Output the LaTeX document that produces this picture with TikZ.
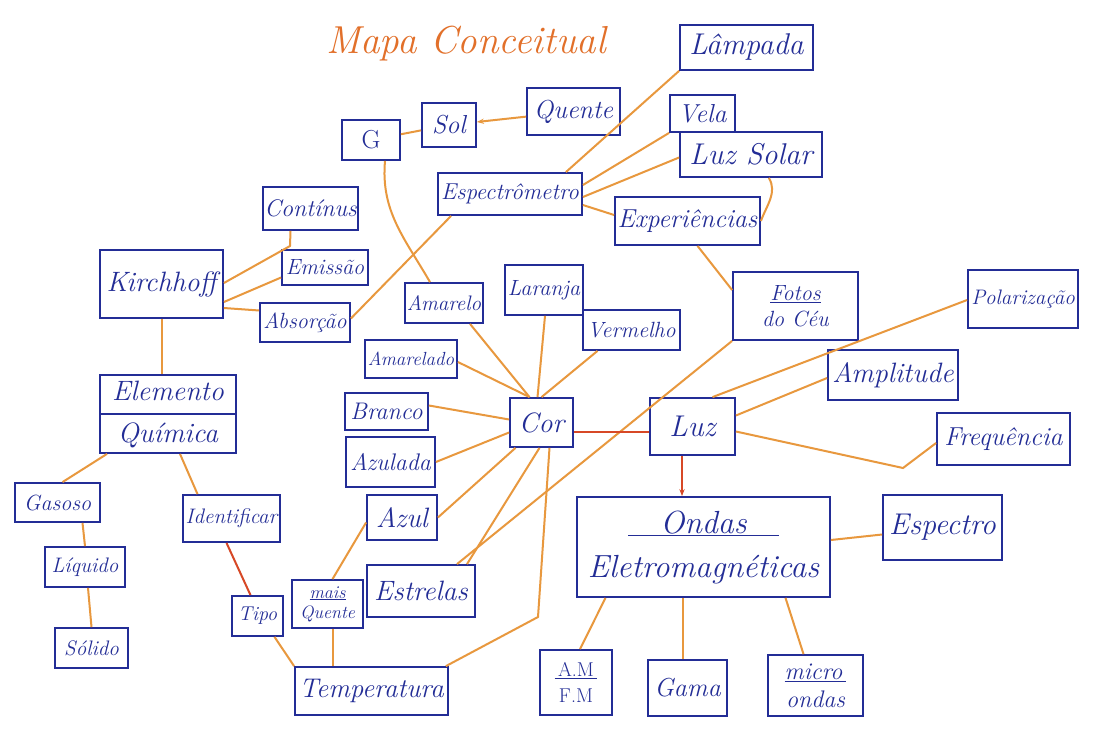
\documentclass[tikz,border=0pt]{standalone}
\usepackage{fontspec}
\usepackage{tikz}
\usetikzlibrary{positioning, calc}
\usetikzlibrary{arrows.meta}
\definecolor{inkblue}{RGB}{35,45,150}
\definecolor{linkorange}{RGB}{232,152,62}
\definecolor{linkred}{RGB}{215,72,38}
\definecolor{titleorange}{RGB}{226,112,42}
\newcommand{\handfont}[1]{\fontsize{#1}{#1}\selectfont\itshape}
\tikzstyle{conceptbox}=[rectangle,draw=inkblue,line width=1.8pt,text=inkblue,
align=center,inner sep=1pt,font=\handfont{22}]
\tikzstyle{edgepath}=[draw=linkorange,line width=2pt]
\tikzstyle{redpath}=[draw=linkred,line width=2pt]

\begin{document}
\begin{tikzpicture}[x=1pt,y=1pt]
    \useasboundingbox[fill=white] (0,0) rectangle (1102,-738);
    \node[text=titleorange, font=\handfont{39}] (title) at (466,-44) {Mapa Conceitual};

    % top row
    \node[conceptbox, font=\handfont{30}, minimum width=133, minimum height=45] (lampada) at (746.5,-47.5) {Lâmpada};
    \node[conceptbox, font=\handfont{26}, minimum width=93, minimum height=47] (quente) at (573.5,-111.5) {Quente};
    \node[conceptbox, font=\handfont{26}, minimum width=54, minimum height=44] (sol) at (449,-125) {Sol};
    \node[conceptbox, font=\fontsize{26}{26}\selectfont, minimum width=58, minimum height=40] (gbox) at (371,-140) {G};
    \node[conceptbox, font=\handfont{26}, minimum width=65, minimum height=37] (vela) at (702.5,-113.5) {Vela};
    \node[conceptbox, font=\handfont{30}, minimum width=142, minimum height=45] (luzsolar) at (751,-154.5) {Luz Solar};
    \node[conceptbox, font=\handfont{23}, minimum width=144, minimum height=42] (espec) at (510,-194) {Espectrômetro};
    \node[conceptbox, font=\handfont{26}, minimum width=145, minimum height=48] (exper) at (687.5,-221) {Experiências};

    % Kirchhoff side
    \node[conceptbox, font=\handfont{24}, minimum width=95, minimum height=43] (continus) at (310.5,-208.5) {Contínus};
    \node[conceptbox, minimum width=86, minimum height=35] (emissao) at (325,-267.5) {Emissão};
    \node[conceptbox, font=\handfont{28}, minimum width=123, minimum height=68] (kirch) at (161.5,-284) {Kirchhoff};
    \node[conceptbox, minimum width=90, minimum height=39] (absorcao) at (305,-322.5) {Absorção};
    \node[conceptbox, font=\handfont{28}, minimum width=136, minimum height=78] (elemento) at (168,-414) {Elemento\\[14pt]Química};
    \node[conceptbox, minimum width=85, minimum height=39] (gasoso) at (57.5,-502.5) {Gasoso};
    \node[conceptbox, font=\handfont{21}, minimum width=80, minimum height=40] (liquido) at (85,-567) {Líquido};
    \node[conceptbox, font=\handfont{21}, minimum width=73, minimum height=40] (solido) at (91.5,-648) {Sólido};
    \node[conceptbox, font=\handfont{21}, minimum width=97, minimum height=47] (identif) at (231.5,-518.5) {Identificar};
    \node[conceptbox, font=\handfont{20}, minimum width=51, minimum height=40] (tipo) at (257.5,-616) {Tipo};
    \node[conceptbox, font=\handfont{18}, minimum width=71, minimum height=48] (maisq) at (327.5,-604) {\underline{mais}\\[2pt]Quente};
    \node[conceptbox, font=\handfont{27}, minimum width=153, minimum height=48] (temp) at (371.5,-691) {Temperatura};

    % colours round Cor
    \node[conceptbox, font=\handfont{21}, minimum width=78, minimum height=40] (amarelo) at (444,-303) {Amarelo};
    \node[conceptbox, minimum width=78, minimum height=50] (laranja) at (544,-290) {Laranja};
    \node[conceptbox, minimum width=97, minimum height=40] (vermelho) at (631.5,-330) {Vermelho};
    \node[conceptbox, font=\handfont{19}, minimum width=92, minimum height=38] (amarelado) at (411,-359) {Amarelado};
    \node[conceptbox, font=\handfont{24}, minimum width=83, minimum height=37] (branco) at (386.5,-411.5) {Branco};
    \node[conceptbox, font=\handfont{24}, minimum width=89, minimum height=50] (azulada) at (390.5,-462) {Azulada};
    \node[conceptbox, font=\handfont{28}, minimum width=70, minimum height=45] (azul) at (402,-517.5) {Azul};
    \node[conceptbox, font=\handfont{28}, minimum width=108, minimum height=52] (estrelas) at (421,-591) {Estrelas};
    \node[conceptbox, font=\handfont{28}, minimum width=63, minimum height=49] (cor) at (541.5,-422.5) {Cor};

    % Luz side
    \node[conceptbox, font=\handfont{30}, minimum width=85, minimum height=57] (luz) at (692.5,-426.5) {Luz};
    \node[conceptbox, minimum width=125, minimum height=68] (fotos) at (795.5,-306) {\underline{Fotos}\\[4pt]do Céu};
    \node[conceptbox, font=\handfont{21}, minimum width=110, minimum height=58] (polar) at (1023,-299) {Polarização};
    \node[conceptbox, font=\handfont{28}, minimum width=130, minimum height=50] (amplitude) at (893,-375) {Amplitude};
    \node[conceptbox, font=\handfont{26}, minimum width=133, minimum height=52] (freq) at (1003.5,-439) {Frequência};
    \node[conceptbox, font=\handfont{32}, minimum width=253, minimum height=100] (ondas) at (703.5,-547) {\underline{\quad Ondas\quad}\\[12pt]Eletromagnéticas};
    \node[conceptbox, font=\handfont{30}, minimum width=119, minimum height=65] (espectro) at (942.5,-527.5) {Espectro};
    \node[conceptbox, font=\fontsize{20}{20}\selectfont, minimum width=72, minimum height=65] (amfm) at (576,-682.5) {\underline{\,A.M\,}\\[6pt]F.M};
    \node[conceptbox, font=\handfont{26}, minimum width=79, minimum height=56] (gama) at (687.5,-688) {Gama};
    \node[conceptbox, font=\handfont{24}, minimum width=95, minimum height=61] (micro) at (815.5,-685.5) {\underline{micro\,}\\[4pt]ondas};

    \draw[inkblue, line width=1.6pt] (elemento.west) -- (elemento.east);

    \coordinate (continusbend) at (290,-246);
    \coordinate (corbend) at (538,-617);
    \coordinate (freqbend) at (903,-468);

    \path[edgepath]
        (gbox) edge (sol)
        (quente) edge[-{Stealth[length=7pt]}] (sol)
        ([xshift=-17pt]espec.north east) edge (lampada.south west)
        ([yshift=9pt]espec.east) edge (vela.south west)
        ([yshift=-3pt]espec.east) edge ([yshift=-3pt]luzsolar.west)
        ([yshift=-11pt]espec.east) edge ([yshift=6pt]exper.west)
        ([xshift=-54pt]luzsolar.south east) edge[out=-60, in=70] (exper.east)
        ([xshift=10pt]exper.south) edge ([yshift=16pt]fotos.west)
        ([xshift=14pt]espec.south west) edge ([yshift=4pt]absorcao.east)
        ([xshift=14pt]gbox.south) edge[out=-95, in=120] ([xshift=-14pt]amarelo.north)
        ([yshift=-18pt]kirch.east) edge ([yshift=-10pt]emissao.west)
        ([yshift=-24pt]kirch.east) edge ([yshift=12pt]absorcao.west)
        ([xshift=0.5pt]kirch.south) edge ([xshift=0.5pt]kirch.south |- elemento.north)
        ([xshift=-61pt]elemento.south) edge ([xshift=5pt]gasoso.north)
        ([xshift=12pt]elemento.south) edge ([xshift=-34pt]identif.north)
        ([xshift=25pt]gasoso.south) edge (liquido.north)
        ([xshift=3pt]liquido.south) edge (solido.north)
        ([xshift=17pt]tipo.south) edge (temp.north west)
        ([xshift=5.5pt]maisq.south) edge ([xshift=5.5pt]maisq.south |- temp.north)
        ([xshift=5pt]maisq.north) edge ([yshift=-5pt]azul.west)
        ([xshift=26pt]amarelo.south) edge ([xshift=-12pt]cor.north)
        ([xshift=1pt]laranja.south) edge ([xshift=-4pt]cor.north)
        ([xshift=-34pt]vermelho.south) edge (cor.north)
        ([yshift=-3pt]amarelado.east) edge ([xshift=-12pt]cor.north)
        ([yshift=6pt]branco.east) edge ([yshift=3pt]cor.west)
        (azulada.east) edge ([yshift=-10pt]cor.west)
        (azul.east) edge ([xshift=-26pt]cor.south)
        ([xshift=46pt]estrelas.north) edge ([xshift=-2pt]cor.south)
        ([xshift=36pt]estrelas.north) edge (fotos.south west)
        ([xshift=20pt]luz.north) edge ([yshift=-1pt]polar.west)
        ([yshift=11pt]luz.east) edge ([yshift=-3pt]amplitude.west)
        ([yshift=7pt]ondas.east) edge ([yshift=-7pt]espectro.west)
        ([xshift=-98pt]ondas.south) edge ([xshift=4pt]amfm.north)
        ([xshift=-20.5pt]ondas.south) edge ([xshift=-4.5pt]gama.north)
        ([xshift=82pt]ondas.south) edge ([xshift=-12pt]micro.north);

    \draw[edgepath] ([yshift=1pt]kirch.east) -- (continusbend) -- ([xshift=-20pt]continus.south);
    \draw[edgepath] ([xshift=-3pt]temp.north east) -- (corbend) -- ([xshift=8pt]cor.south);
    \draw[edgepath] ([yshift=-5pt]luz.east) -- (freqbend) -- ([yshift=-4pt]freq.west);

    \path[redpath]
        ([xshift=-5pt]identif.south) edge ([xshift=-7pt]tipo.north)
        ([yshift=-9.5pt]cor.east) edge ([yshift=-5.5pt]luz.west)
        ([xshift=-10.5pt]luz.south) edge[-{Stealth[length=7pt]}] ([xshift=-10.5pt]luz.south |- ondas.north);
\end{tikzpicture}
\end{document}
